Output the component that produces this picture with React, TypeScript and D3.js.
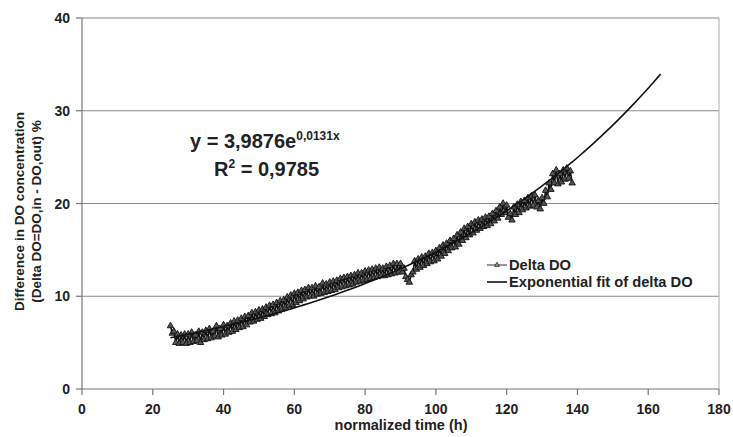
import React from 'react';
import * as d3 from 'd3';

// Delta DO measured every 0.5 h, starting at 25 h
const startHour = 25;
const stepHour = 0.5;
const deltaDO = [
  6.8, 6.0, 6.2, 5.0, 5.9, 4.9, 5.8, 5.0, 5.9, 4.9,
  5.9, 5.0, 6.1, 5.1, 5.8, 5.2, 6.2, 5.0, 6.1, 5.3,
  6.3, 5.4, 6.5, 5.5, 6.2, 5.7, 6.8, 5.6, 6.5, 5.8,
  6.9, 5.9, 6.8, 6.1, 7.1, 6.2, 7.3, 6.4, 7.4, 6.6,
  7.6, 6.7, 7.8, 6.9, 7.9, 7.2, 8.2, 7.3, 8.3, 7.5,
  8.5, 7.6, 8.6, 7.8, 8.8, 8.0, 9.0, 8.1, 9.1, 8.2,
  9.3, 8.4, 9.5, 8.6, 9.6, 8.8, 9.9, 9.0, 10.1, 9.1,
  10.3, 9.3, 10.4, 9.5, 10.6, 9.7, 10.7, 9.9, 10.9, 10.0,
  10.9, 10.0, 11.1, 10.2, 11.0, 10.3, 11.4, 10.4, 11.3, 10.5,
  11.5, 10.6, 11.6, 10.7, 11.7, 10.9, 11.9, 11.0, 12.0, 11.1,
  12.1, 11.2, 12.2, 11.3, 12.3, 11.5, 12.5, 11.6, 12.5, 11.7,
  12.7, 11.8, 12.8, 11.9, 12.9, 12.0, 13.0, 12.1, 13.1, 12.2,
  13.0, 12.2, 13.2, 12.3, 13.3, 12.4, 13.5, 12.5, 13.5, 12.6,
  13.5, 12.6, 13.0, 12.1, 11.8, 11.5, 12.3, 12.6, 13.8, 12.9,
  14.0, 13.1, 14.2, 13.3, 14.3, 13.5, 14.6, 13.7, 14.7, 13.8,
  14.9, 14.0, 15.2, 14.3, 15.5, 14.6, 15.7, 14.9, 16.0, 15.2,
  16.2, 15.3, 16.6, 15.6, 16.9, 16.0, 17.3, 16.3, 17.5, 16.6,
  17.8, 16.8, 18.0, 17.1, 18.2, 17.3, 18.3, 17.5, 18.5, 17.6,
  18.6, 17.8, 18.9, 18.1, 19.2, 18.4, 19.6, 18.8, 20.0, 19.0,
  19.8, 18.5, 18.9, 18.2, 19.6, 18.8, 19.9, 19.0, 20.2, 19.3,
  20.3, 19.5, 20.6, 19.7, 20.8, 19.8, 20.9, 19.6, 20.3, 19.4,
  20.6, 20.0, 21.4, 20.7, 22.2, 21.5, 23.2, 22.2, 23.6, 22.1,
  23.2, 22.3, 23.6, 22.6, 23.8, 22.7, 23.5, 22.2,
];

// exponential trendline y = a * e^(b x), drawn from 25 h to 163.5 h
const fitA = 3.9876;
const fitB = 0.0131;
const fitStart = 25;
const fitEnd = 163.5;

const xTicks = [0, 20, 40, 60, 80, 100, 120, 140, 160, 180];
const yTicks = [0, 10, 20, 30, 40];

const FONT = '"Liberation Sans", Arial, sans-serif';

export default function App() {
  const width = 733;
  const height = 437;
  const left = 82, right = 719, top = 18, bottom = 389;

  const x = d3.scaleLinear().domain([0, 180]).range([left, right]);
  const y = d3.scaleLinear().domain([0, 40]).range([bottom, top]);

  const pts = deltaDO.map((v, i) => ({ t: startHour + i * stepHour, v }));

  const dataLine = d3.line<{ t: number; v: number }>()
    .x(d => x(d.t))
    .y(d => y(d.v));

  const fitXs = d3.range(fitStart, fitEnd + 0.001, 1.5);
  if (fitXs[fitXs.length - 1] < fitEnd) fitXs.push(fitEnd);
  const fitLine = d3.line<number>()
    .x(d => x(d))
    .y(d => y(fitA * Math.exp(fitB * d)));

  const tri = d3.symbol().type(d3.symbolTriangle).size(18)() as string;
  const legendTri = d3.symbol().type(d3.symbolTriangle).size(10)() as string;

  return (
    <svg width={width} height={height} style={{ position: 'absolute', left: 0, top: 0, background: '#fff' }}
      fontFamily={FONT} fontWeight="bold">
      {/* gridlines */}
      {yTicks.filter(t => t > 0).map(t => (
        <line key={t} x1={left} x2={right} y1={y(t)} y2={y(t)} stroke="#888" strokeWidth={1.2} />
      ))}
      {/* right border */}
      <line x1={right} x2={right} y1={top} y2={bottom} stroke="#aaa" strokeWidth={1} />

      {/* axes */}
      <line x1={left} x2={left} y1={top} y2={bottom} stroke="#777" strokeWidth={1.2} />
      <line x1={left} x2={right} y1={bottom} y2={bottom} stroke="#777" strokeWidth={1.2} />
      {yTicks.map(t => (
        <g key={t}>
          <line x1={left - 6} x2={left} y1={y(t)} y2={y(t)} stroke="#777" strokeWidth={1.2} />
          <text x={left - 12} y={y(t)} dy="0.36em" textAnchor="end" fontSize={14} fill="#222">{t}</text>
        </g>
      ))}
      {xTicks.map(t => (
        <g key={t}>
          <line x1={x(t)} x2={x(t)} y1={bottom} y2={bottom + 6} stroke="#777" strokeWidth={1.2} />
          <text x={x(t)} y={bottom + 25} textAnchor="middle" fontSize={14} fill="#222">{t}</text>
        </g>
      ))}

      {/* axis titles */}
      <text x={401} y={430} textAnchor="middle" fontSize={14.5} fill="#222">normalized time (h)</text>
      <text transform={`translate(24,${(top + bottom) / 2 + 8}) rotate(-90)`} textAnchor="middle" fontSize={13.5} fill="#222">
        <tspan x={0} dy={0}>Difference in DO concentration</tspan>
        <tspan x={0} dy={17}>(Delta DO=DO,in - DO,out) %</tspan>
      </text>

      {/* data */}
      <path d={dataLine(pts) ?? ''} fill="none" stroke="#111" strokeWidth={1.6} />
      {pts.map((d, i) => (
        <path key={i} d={tri} transform={`translate(${x(d.t)},${y(d.v)})`} fill="#555" stroke="#111" strokeWidth={0.9} />
      ))}
      <path d={fitLine(fitXs) ?? ''} fill="none" stroke="#111" strokeWidth={1.6} />

      {/* equation */}
      <text x={190} y={148} fontSize={20} fill="#222">
        y = 3,9876e<tspan dy={-8} fontSize={12}>0,0131x</tspan>
      </text>
      <text x={214} y={176} fontSize={20} fill="#222">
        R<tspan dy={-8} fontSize={12}>2</tspan><tspan dy={8}> = 0,9785</tspan>
      </text>

      {/* legend */}
      <g>
        <line x1={487} x2={507} y1={265} y2={265} stroke="#333" strokeWidth={1} />
        <path d={legendTri} transform="translate(497,265)" fill="#999" stroke="#111" strokeWidth={0.7} />
        <text x={509} y={270} fontSize={14.7} fill="#222">Delta DO</text>
        <line x1={487} x2={507} y1={282} y2={282} stroke="#111" strokeWidth={1.6} />
        <text x={509} y={287} fontSize={14.7} fill="#222">Exponential fit of delta DO</text>
      </g>
    </svg>
  );
}
